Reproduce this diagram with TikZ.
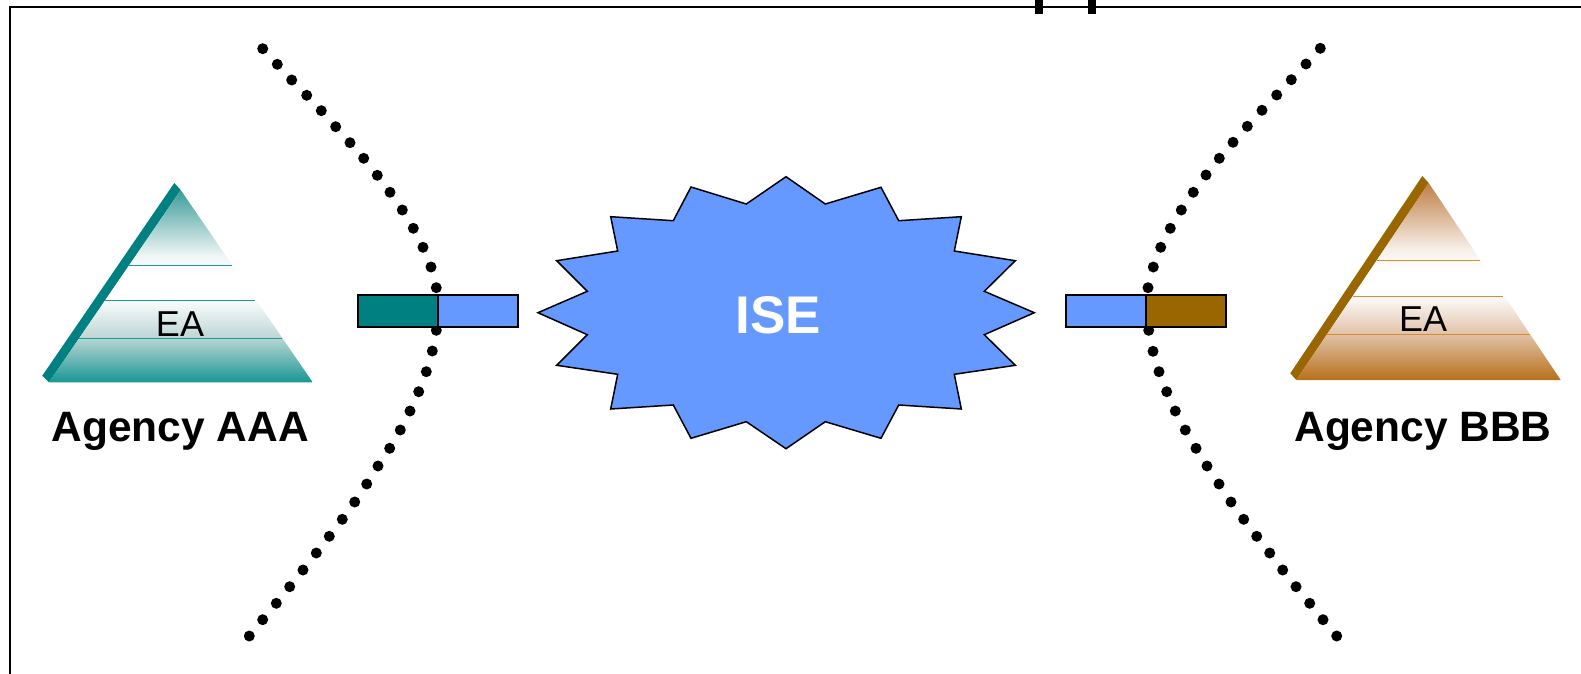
\documentclass[tikz,border=0pt]{standalone}
\usepackage{fontspec}
\setmainfont{Liberation Sans}
\usetikzlibrary{positioning}
\definecolor{iseblue}{HTML}{6699FF}
\definecolor{aaateal}{HTML}{008080}
\definecolor{aaalight}{HTML}{3A9C9A}
\definecolor{aaadeep}{HTML}{189694}
\definecolor{aaamid}{HTML}{BFD8D6}
\definecolor{aaaline}{HTML}{1A9C9A}
\definecolor{bbbbrown}{HTML}{996600}
\definecolor{bbblight}{HTML}{BF7F45}
\definecolor{bbbdeep}{HTML}{B8701A}
\definecolor{bbbmid}{HTML}{E2C4AC}
\definecolor{bbbline}{HTML}{D68F30}
\pgfdeclareverticalshading{aaafade}{100bp}{color(0bp)=(aaadeep); color(25bp)=(aaadeep);
  color(37bp)=(aaamid); color(47bp)=(white); color(53bp)=(white); color(58bp)=(aaamid!25!white);
  color(75bp)=(aaalight); color(100bp)=(aaalight)}
\pgfdeclareverticalshading{bbbfade}{100bp}{color(0bp)=(bbbdeep); color(25bp)=(bbbdeep);
  color(37bp)=(bbbmid); color(47bp)=(white); color(53bp)=(white); color(58bp)=(bbbmid!25!white);
  color(75bp)=(bbblight); color(100bp)=(bbblight)}
\tikzset{
  x=1pt, y=-1pt, % one unit is one pixel of the reference, going down
  node distance=0pt, % the two halves of a port touch
  portbox/.style={draw, line width=2pt, minimum width=80.3pt, minimum height=31.7pt, inner sep=0pt, outer sep=0pt}, % the halves of a port
  agency/.style={font=\fontsize{42.5}{42.5}\selectfont\bfseries, anchor=base}, % the names under the pyramids
  ealabel/.style={font=\fontsize{36}{36}\selectfont, anchor=base}, % the text inside a pyramid
  layer/.style={line width=1pt}, % the lines across a pyramid
}

\begin{document}
\begin{tikzpicture}
  \useasboundingbox (0,0) rectangle (1581,674);

  % frame
  \draw[line width=2pt] (10,674) -- (10,7) -- (1581,7);
  \fill (1034.7,0) rectangle (1042.7,14);
  \fill (1088,0) rectangle (1096,14);

  % dotted borders
  \foreach \px/\py in {262.7/48.7, 277.3/64.3, 291.7/80, 306.7/95.3, 321.3/110.7, 335.7/126.7,
      350/142.7, 363.7/158.3, 377.3/175.3, 390/192.3, 402.3/210, 413.3/228.3, 423/247.3,
      431/267, 436.3/287.7, 436.3/330.3, 432.3/351, 426.3/371.7, 418.7/391.7, 410/411,
      400.3/430, 389.7/448.3, 378/466, 366.7/484, 354.7/502, 342.3/519.3, 329.3/536.3,
      316.3/553, 303/570, 289.7/586.7, 276.3/603.3, 262.7/619.7, 249.3/636,
      1320.3/48.3, 1306/64, 1291.3/79.7, 1276.7/95, 1262/110.3, 1247.3/126.3, 1233/142.3,
      1219.3/158.3, 1206/175, 1193.3/192.3, 1181.3/210, 1170.3/228.3, 1160.7/247.3,
      1153.3/267, 1148/287.7, 1148.7/330.3, 1153/351.3, 1159/371.7, 1166.7/391.7,
      1175.3/411, 1185.3/430, 1196/448.3, 1207/466, 1219/484, 1231/502, 1243.7/519.3,
      1256.7/536.3, 1269.7/553, 1282.7/570, 1296/586.7, 1309.7/603.3, 1323/619.7, 1336.7/636}
    \fill (\px,\py) circle (5.5pt);

  % ports
  \node[portbox, fill=aaateal] (portA) at (397.9,310.9) {};
  \node[portbox, fill=iseblue, right=of portA] (portAi) {};
  \node[portbox, fill=iseblue] (portBi) at (1105.9,310.9) {};
  \node[portbox, fill=bbbbrown, right=of portBi] (portB) {};

  % exchange
  \draw[fill=iseblue, line width=1.5pt, line join=miter]
    (538,312.7) -- (587.3,291.3) -- (556.7,260.7) -- (617.7,251) -- (610.7,216.7)
    -- (673.3,220.7) -- (691,187) -- (746.3,204) -- (786,176.7) -- (825.3,204)
    -- (881,187.3) -- (898.7,220.7) -- (961.3,216.7) -- (954.3,251) -- (1015.3,260.7)
    -- (984.3,291.3) -- (1034.3,312.7) -- (984.3,334.7) -- (1015.3,365.3) -- (954.3,374.3)
    -- (961.3,409) -- (898.7,405) -- (881,438.3) -- (825.3,421.7) -- (786,448.7)
    -- (746.3,421.7) -- (691,438.3) -- (673.3,405) -- (610.7,409) -- (617.7,374.3)
    -- (556.7,365.3) -- (587.3,334.7) -- cycle;
  \node[text=white, font=\fontsize{53}{53}\selectfont\bfseries, anchor=base] (ise) at (778.5,333) {ISE};

  % pyramid of agency AAA
  \fill[aaateal] (174.3,183) -- (180.7,190) -- (49,382.3) -- (42.3,375.7) -- cycle;
  \shade[shading=aaafade] (180.7,190) -- (312.7,382.3) -- (49,382.3) -- cycle;
  \draw[layer, aaaline] (129.3,265.3) -- (232,265.3);
  \draw[layer, aaaline] (105,300.3) -- (255,300.3);
  \draw[layer, aaaline] (78.7,338.3) -- (282.3,338.3);
  \node[ealabel] (eaA) at (180,336) {EA};
  \node[agency] (agencyA) at (180.3,441.7) {Agency AAA};

  % pyramid of agency BBB
  \fill[bbbbrown] (1422.3,176) -- (1428.7,183) -- (1296.3,380) -- (1290.3,373.3) -- cycle;
  \shade[shading=bbbfade] (1428.7,183) -- (1560.7,380) -- (1296.3,380) -- cycle;
  \draw[layer, bbbline] (1377.3,260.3) -- (1480,260.3);
  \draw[layer, bbbline] (1353.3,296) -- (1502.7,296);
  \draw[layer, bbbline] (1327.3,334.7) -- (1530,334.7);
  \node[ealabel] (eaB) at (1423,331.5) {EA};
  \node[agency] (agencyB) at (1423,441.7) {Agency BBB};
\end{tikzpicture}
\end{document}
